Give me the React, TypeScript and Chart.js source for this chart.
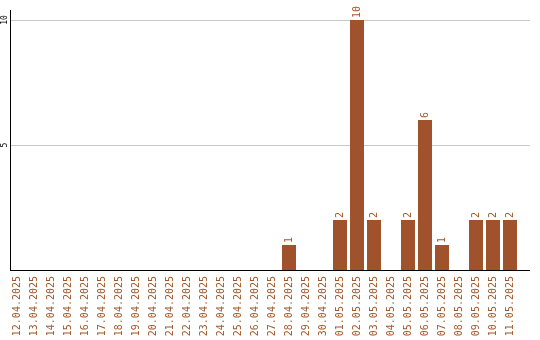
import React, { useEffect, useRef } from "react";
import { Chart, registerables } from "chart.js";

Chart.register(...registerables);

const categories: string[] = [
  "12.04.2025", "13.04.2025", "14.04.2025", "15.04.2025", "16.04.2025",
  "17.04.2025", "18.04.2025", "19.04.2025", "20.04.2025", "21.04.2025",
  "22.04.2025", "23.04.2025", "24.04.2025", "25.04.2025", "26.04.2025",
  "27.04.2025", "28.04.2025", "29.04.2025", "30.04.2025", "01.05.2025",
  "02.05.2025", "03.05.2025", "04.05.2025", "05.05.2025", "06.05.2025",
  "07.05.2025", "08.05.2025", "09.05.2025", "10.05.2025", "11.05.2025",
];
const values: number[] = [
  0, 0, 0, 0, 0, 0, 0, 0, 0, 0,
  0, 0, 0, 0, 0, 0, 1, 0, 0, 2,
  10, 2, 0, 2, 6, 1, 0, 2, 2, 2,
];
const yTicks: number[] = [5, 10];

const BROWN = "#a0582a";
const BAR = "#a0522d";
const MONO = "'DejaVu Sans Mono', monospace";

const decorPlugin = {
  id: "decor",
  beforeDatasetsDraw(chart: any) {
    const ctx = chart.ctx;
    const y = chart.scales.y;
    const x0 = 10;
    const x1 = 530;
    ctx.save();
    ctx.fillStyle = "#c8c8c8";
    yTicks.forEach((t) => {
      const py = Math.round(y.getPixelForValue(t));
      ctx.fillRect(x0 + 1, py, x1 - x0 - 1, 1);
    });
    ctx.restore();
  },
  afterDatasetsDraw(chart: any) {
    const ctx = chart.ctx;
    const y = chart.scales.y;
    const top = Math.round(y.getPixelForValue(10.4));
    const bottom = Math.round(y.getPixelForValue(0));
    ctx.save();
    ctx.fillStyle = "#000";
    ctx.fillRect(10, top, 1, bottom - top + 1);
    ctx.fillRect(10, bottom, 520, 1);
    // y tick labels
    ctx.font = "8px " + MONO;
    ctx.textAlign = "center";
    ctx.textBaseline = "middle";
    yTicks.forEach((t) => {
      const py = y.getPixelForValue(t);
      ctx.save();
      ctx.translate(4.5, py);
      ctx.rotate(-Math.PI / 2);
      ctx.fillText(String(t), 0, 0);
      ctx.restore();
    });
    // value labels
    const meta = chart.getDatasetMeta(0);
    ctx.fillStyle = BROWN;
    ctx.font = "10px " + MONO;
    ctx.textAlign = "left";
    ctx.textBaseline = "middle";
    meta.data.forEach((el: any, i: number) => {
      const v = values[i];
      if (!v) return;
      ctx.save();
      ctx.translate(el.x, el.y - 2);
      ctx.rotate(-Math.PI / 2);
      ctx.fillText(String(v), 0, 0);
      ctx.restore();
    });
    ctx.restore();
  },
};

export default function App() {
  const ref = useRef<HTMLCanvasElement | null>(null);
  useEffect(() => {
    if (!ref.current) return;
    const chart = new Chart(ref.current, {
      type: "bar",
      data: {
        labels: categories,
        datasets: [
          {
            data: values,
            backgroundColor: BAR,
            borderWidth: 0,
            barPercentage: 14 / 17,
            categoryPercentage: 1,
          },
        ],
      },
      options: {
        animation: false,
        responsive: false,
        maintainAspectRatio: false,
        layout: { padding: { left: 8.5, right: 21.5, top: 10, bottom: 0 } },
        plugins: { legend: { display: false }, tooltip: { enabled: false } },
        scales: {
          x: {
            grid: { display: false, drawTicks: false },
            border: { display: false },
            ticks: {
              autoSkip: false,
              minRotation: 90,
              maxRotation: 90,
              padding: 6,
              color: BROWN,
              font: { family: MONO, size: 10 },
            },
            afterFit: (s: any) => {
              s.height = 70;
            },
          },
          y: {
            display: false,
            min: 0,
            max: 10.4,
          },
        },
      },
      plugins: [decorPlugin],
    });
    return () => chart.destroy();
  }, []);
  return (
    <div style={{ position: "fixed", left: 0, top: 0, width: 540, height: 340, background: "#fff" }}>
      <canvas ref={ref} width={540} height={340} style={{ width: 540, height: 340 }} />
    </div>
  );
}
